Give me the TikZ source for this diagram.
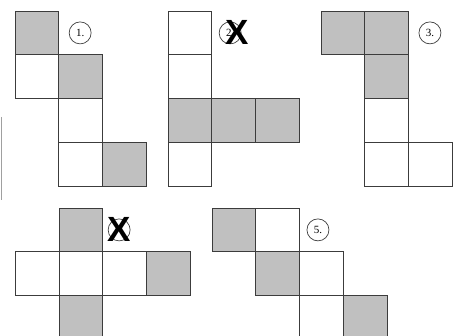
\documentclass[tikz,border=0pt]{standalone}
\usepackage{fontspec}
\setmainfont{Liberation Serif}
\newfontfamily\crossfont{Liberation Sans}
\usepackage{xcolor}
\usepackage{tikz}
\usetikzlibrary{positioning}
\definecolor{cellgray}{HTML}{C0C0C0}
\definecolor{edgegray}{HTML}{3C3C3C}
\definecolor{stray}{HTML}{A0A0A0}

\begin{document}
\begin{tikzpicture}[x=1pt, y=1pt, node distance=0pt, cell/.style={rectangle, draw=edgegray, line width=0.9pt, minimum size=43.8pt, inner sep=0pt, outer sep=0pt}, shaded/.style={cell, fill=cellgray}, tag/.style={circle, draw=edgegray, line width=0.7pt, minimum size=22pt, inner sep=0pt, font=\fontsize{11}{11}\selectfont}, cross/.style={font=\crossfont\bfseries\fontsize{35}{35}\selectfont, inner sep=0pt}]
        \clip (0,0) rectangle (454,336);
        \draw [stray, line width=1pt] (1,219) -- (1,136);

        \node (a1) [shaded, anchor=north west] at (15,325) {};
        \node (a2) [cell, below=of a1] {};
        \node (a3) [shaded, right=of a2] {};
        \node (a4) [cell, below=of a3] {};
        \node (a5) [cell, below=of a4] {};
        \node (a6) [shaded, right=of a5] {};
        \node (t1) [tag, right=10pt of a1] {1.};

        \node (b1) [cell, anchor=north west] at (168,325) {};
        \node (b2) [cell, below=of b1] {};
        \node (b3) [shaded, below=of b2] {};
        \node (b4) [shaded, right=of b3] {};
        \node (b5) [shaded, right=of b4] {};
        \node (b6) [cell, below=of b3] {};
        \node (t2) [tag, right=7pt of b1] {2.};
        \node (x2) [cross, xshift=7pt] at (t2) {X};

        \node (c1) [shaded, anchor=north west] at (321,325) {};
        \node (c2) [shaded, right=of c1] {};
        \node (c3) [shaded, below=of c2] {};
        \node (c4) [cell, below=of c3] {};
        \node (c5) [cell, below=of c4] {};
        \node (c6) [cell, right=of c5] {};
        \node (t3) [tag, right=10pt of c2] {3.};

        \node (d1) [shaded, anchor=north west] at (59,128) {};
        \node (d2) [cell, below=of d1] {};
        \node (d3) [cell, left=of d2] {};
        \node (d4) [cell, right=of d2] {};
        \node (d5) [shaded, right=of d4] {};
        \node (d6) [shaded, below=of d2] {};
        \node (t4) [tag, right=5pt of d1] {};
        \node (x4) [cross] at (t4) {X};

        \node (e1) [shaded, anchor=north west] at (212,128) {};
        \node (e2) [cell, right=of e1] {};
        \node (e3) [shaded, below=of e2] {};
        \node (e4) [cell, right=of e3] {};
        \node (e5) [cell, below=of e4] {};
        \node (e6) [shaded, right=of e5] {};
        \node (t5) [tag, right=7pt of e2] {5.};
    \end{tikzpicture}
\end{document}
